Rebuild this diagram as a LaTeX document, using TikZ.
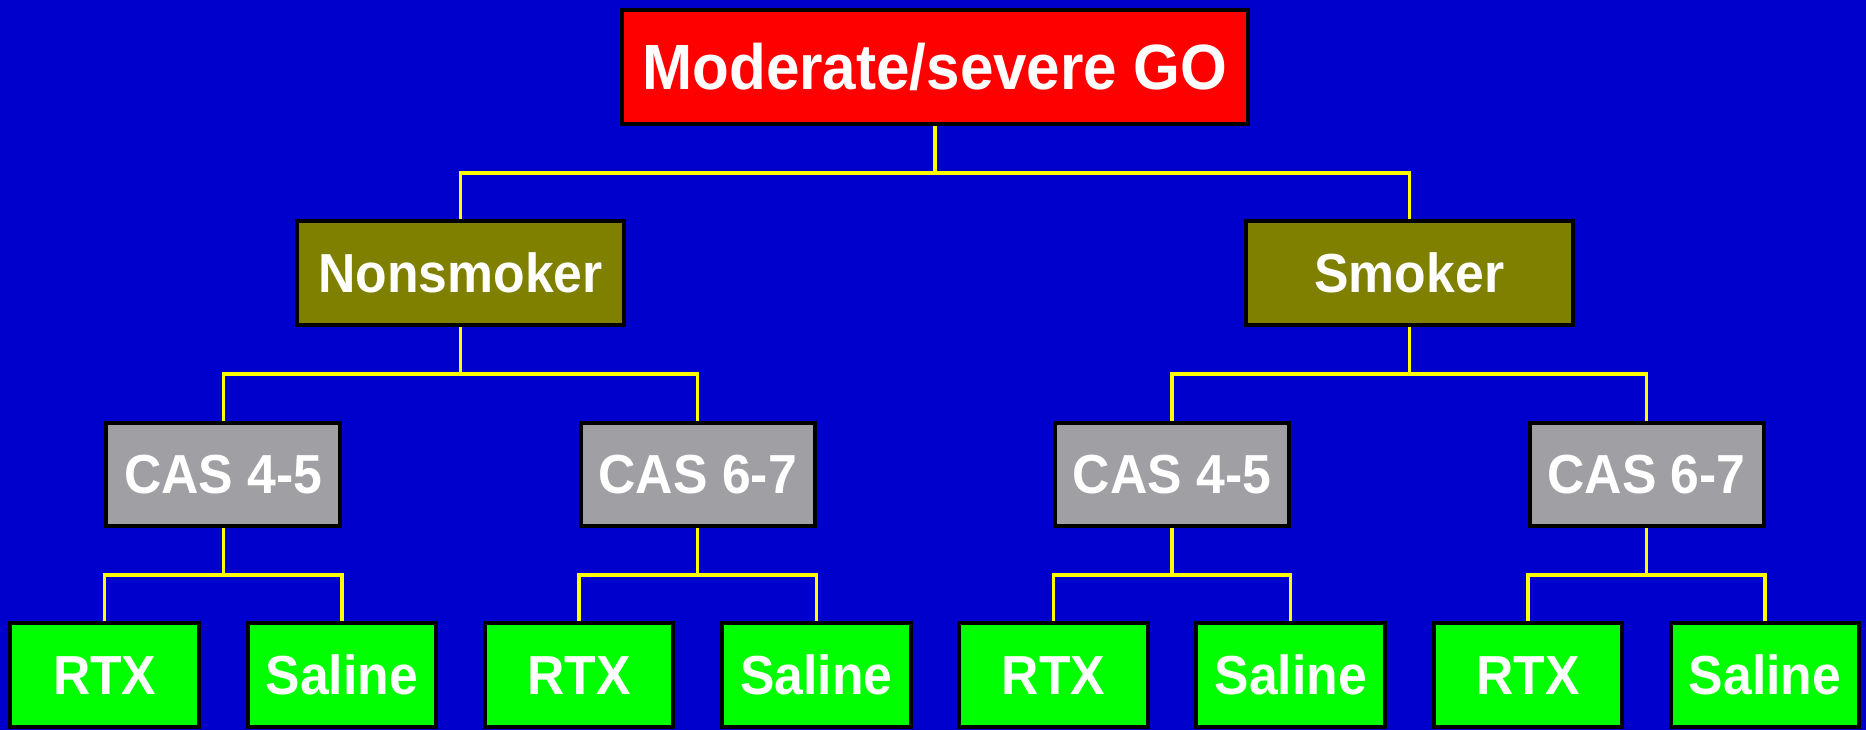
\documentclass[tikz,border=0pt]{standalone}
\usepackage{fontspec}
\setmainfont{Liberation Sans}[FakeStretch=0.94]
\definecolor{bgblue}{RGB}{0,0,204}
\definecolor{topred}{RGB}{255,0,0}
\definecolor{olivebox}{RGB}{128,128,0}
\definecolor{graybox}{RGB}{160,160,164}
\definecolor{greenbox}{RGB}{0,255,0}
\definecolor{connyellow}{RGB}{255,255,0}
\pgfdeclarelayer{bg}
\pgfdeclarelayer{lines}
\pgfsetlayers{bg,lines,main}
\tikzset{
  box/.style={draw=black, line width=4pt, rectangle, inner sep=0pt,
    text=white, font=\bfseries\fontsize{55}{60}\selectfont,
    text height=39.5pt, text depth=0pt, minimum height=104pt},
  topbox/.style={box, fill=topred, minimum width=626pt, minimum height=114pt,
    font=\bfseries\fontsize{64}{70}\selectfont, text height=46pt},
  smokebox/.style={box, fill=olivebox, minimum width=327pt},
  casbox/.style={box, fill=graybox, minimum width=234pt, minimum height=103pt},
  leafbox/.style={box, fill=greenbox, minimum width=188.5pt, minimum height=104pt},
  conn/.style={draw=connyellow, line width=3.5pt}
}
\begin{document}
\begin{tikzpicture}[x=1pt,y=-1pt]
\useasboundingbox (0,0) rectangle (1866,730);
\begin{pgfonlayer}{bg}
\fill[bgblue] (0,0) rectangle (1866,730);
\end{pgfonlayer}

\node[topbox] (top) at (935,67) {Moderate/severe GO};
\node[smokebox] (ns) at (460.5,273) {Nonsmoker};
\node[smokebox] (sm) at (1409.3,273) {Smoker};

\node[casbox] (c1) at (223.3,474) {CAS 4-5};
\node[casbox] (c2) at (697.7,474) {CAS 6-7};
\node[casbox] (c3) at (1172.1,474) {CAS 4-5};
\node[casbox] (c4) at (1646.5,474) {CAS 6-7};

\node[leafbox] (l1) at (104.7,675) {RTX};
\node[leafbox] (l2) at (341.9,675) {Saline};
\node[leafbox] (l3) at (579.1,675) {RTX};
\node[leafbox] (l4) at (816.3,675) {Saline};
\node[leafbox] (l5) at (1053.5,675) {RTX};
\node[leafbox] (l6) at (1290.7,675) {Saline};
\node[leafbox] (l7) at (1527.9,675) {RTX};
\node[leafbox] (l8) at (1765.1,675) {Saline};

\coordinate (b0) at (935,173);
\coordinate (b1) at (460.5,374);
\coordinate (b2) at (1409.3,374);
\coordinate (b3) at (223.3,575);
\coordinate (b4) at (697.7,575);
\coordinate (b5) at (1172.1,575);
\coordinate (b6) at (1646.5,575);

\begin{pgfonlayer}{lines}
\draw[conn] (top.south) -- (b0);
\draw[conn] (ns.north) |- (b0) -| (sm.north);
\draw[conn] (ns.south) -- (b1);
\draw[conn] (c1.north) |- (b1) -| (c2.north);
\draw[conn] (sm.south) -- (b2);
\draw[conn] (c3.north) |- (b2) -| (c4.north);
\draw[conn] (c1.south) -- (b3);
\draw[conn] (l1.north) |- (b3) -| (l2.north);
\draw[conn] (c2.south) -- (b4);
\draw[conn] (l3.north) |- (b4) -| (l4.north);
\draw[conn] (c3.south) -- (b5);
\draw[conn] (l5.north) |- (b5) -| (l6.north);
\draw[conn] (c4.south) -- (b6);
\draw[conn] (l7.north) |- (b6) -| (l8.north);
\end{pgfonlayer}
\end{tikzpicture}
\end{document}
